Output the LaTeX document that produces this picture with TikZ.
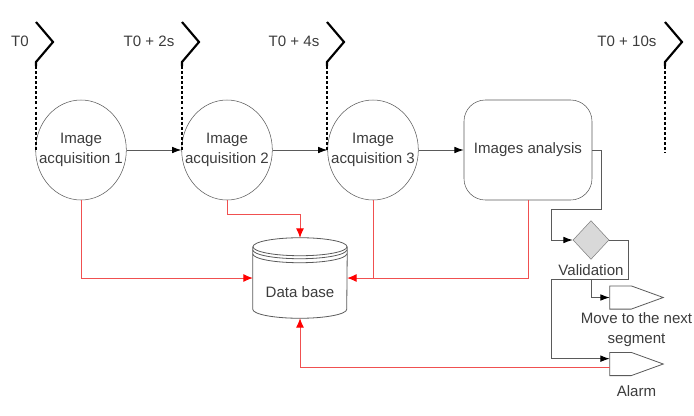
\documentclass[tikz,border=0pt]{standalone}
\usepackage{fontspec}
\setmainfont{Liberation Sans}
\usetikzlibrary{shapes.geometric,arrows.meta,positioning}
\definecolor{linegray}{HTML}{5A5A5A}
\definecolor{textgray}{HTML}{3C3C3C}
\definecolor{diamondgray}{HTML}{D9D9D9}
\definecolor{storered}{HTML}{F05050}
\begin{document}
\begin{tikzpicture}[x=0.75pt,y=-0.75pt,
        font=\fontsize{11.3}{15}\selectfont,text=textgray,
        stage/.style={draw=linegray,ellipse,minimum width=68pt,minimum height=75pt,inner xsep=-9pt,inner ysep=0pt,align=center},
        tick/.style={black,line width=1.6pt},
        timeline/.style={black,line width=1.6pt,dash pattern=on 2.2pt off 1.6pt},
        flow/.style={linegray,line width=0.7pt,-{Latex[length=7pt,width=5pt,color=black]}},
        plain/.style={linegray,line width=0.7pt},
        store/.style={storered,line width=0.7pt,-{Latex[length=7pt,width=6pt,color=red]}},
        storeline/.style={storered,line width=0.7pt},
        outputbox/.style={minimum width=39.75pt,minimum height=17pt,inner sep=0pt}]
    \useasboundingbox (0,0) rectangle (694,415);
    %% Time marks
    \foreach \x/\n in {36/0,182/2,327/4,665/10}
        \draw[tick] (\x,22) -- ++(17,20) -- ++(-17,20) -- ++(0,4) coordinate (c\n);
    \node (t0) at (20,41) {T0};
    \node (t2) at (149,41) {T0 + 2s};
    \node (t4) at (294,41) {T0 + 4s};
    \node (t10) at (627,41) {T0 + 10s};
    %% Stages
    \node[stage] (acq1) at (81,150) {Image\\acquisition 1};
    \node[stage] (acq2) at (227,150) {Image\\acquisition 2};
    \node[stage] (acq3) at (373,150) {Image\\acquisition 3};
    \node[draw=linegray,rounded corners=16pt,minimum width=96pt,minimum height=75pt] (ana) at (528,150) {Images analysis};
    \coordinate (end10) at (665,153);
    \draw[timeline] (c0) -- (c0 |- acq1.west);
    \draw[timeline] (c2) -- (c2 |- acq2.west);
    \draw[timeline] (c4) -- (c4 |- acq3.west);
    \draw[timeline] (c10) -- (end10);
    %% Data base
    \node[minimum width=70.5pt,minimum height=60pt,inner sep=0pt] (db) at (300,278) {};
    \draw[linegray,line width=0.6pt] ([yshift=-6.75pt]db.north west) -- ([yshift=6.75pt]db.south west)
        arc[start angle=180,end angle=360,x radius=35.25pt,y radius=6.75pt] -- ([yshift=-6.75pt]db.north east);
    \draw[linegray,line width=0.6pt] ([yshift=-6.75pt]db.north) ellipse[x radius=35.25pt,y radius=6.75pt];
    \foreach \d in {9,12}
        \draw[linegray,line width=0.6pt] ([yshift=-\d pt]db.north west) arc[start angle=180,end angle=360,x radius=35.25pt,y radius=6.75pt];
    \node (dbtxt) at ([yshift=-10.5pt]db.center) {Data base};
    %% Decision and outputs
    \node[diamond,draw=gray,fill=diamondgray,minimum width=27pt,minimum height=29pt,inner sep=0pt] (val) at (591,240) {};
    \node[below=0pt of val] (vallbl) {Validation};
    \node[outputbox] (move) at (636.5,297.5) {};
    \node[below=-1pt of move,align=center] (movelbl) {Move to the next\\segment};
    \node[outputbox] (alarm) at (636.5,364) {};
    \node[below=4pt of alarm] (alarmlbl) {Alarm};
    \foreach \o in {move,alarm}
        \draw[linegray,line width=0.6pt] (\o.north west) -- ([xshift=-24pt]\o.north east) -- (\o.east)
            -- ([xshift=-24pt]\o.south east) -- (\o.south west) -- cycle;
    %% Flow
    \draw[flow] (acq1.east) -- (acq2.west);
    \draw[flow] (acq2.east) -- (acq3.west);
    \draw[flow] (acq3.east) -- (ana.west);
    \draw[flow] (ana.east) -- ++(9,0) -- ++(0,59) -- ++(-50,0) |- (val.west);
    \draw[plain] (val.east) -- ++(19,0) -- ++(0,39) coordinate (vr) -- ++(-77,0) coordinate (vl);
    \coordinate (split) at (val.south |- vr);
    \draw[flow] (split) |- (move.west);
    \draw[flow] (vl) |- ([yshift=4pt]alarm.west);
    %% Storage
    \draw[store] (acq1.south) |- (db.west);
    \draw[store] (acq2.south) -- ++(0,14) -| (db.north);
    \draw[storeline] (acq3.south) -- (acq3.south |- db.east);
    \draw[store] (ana.south) |- (db.east);
    \draw[store] ([yshift=-2.5pt]alarm.west) -| (db.south);
\end{tikzpicture}
\end{document}
